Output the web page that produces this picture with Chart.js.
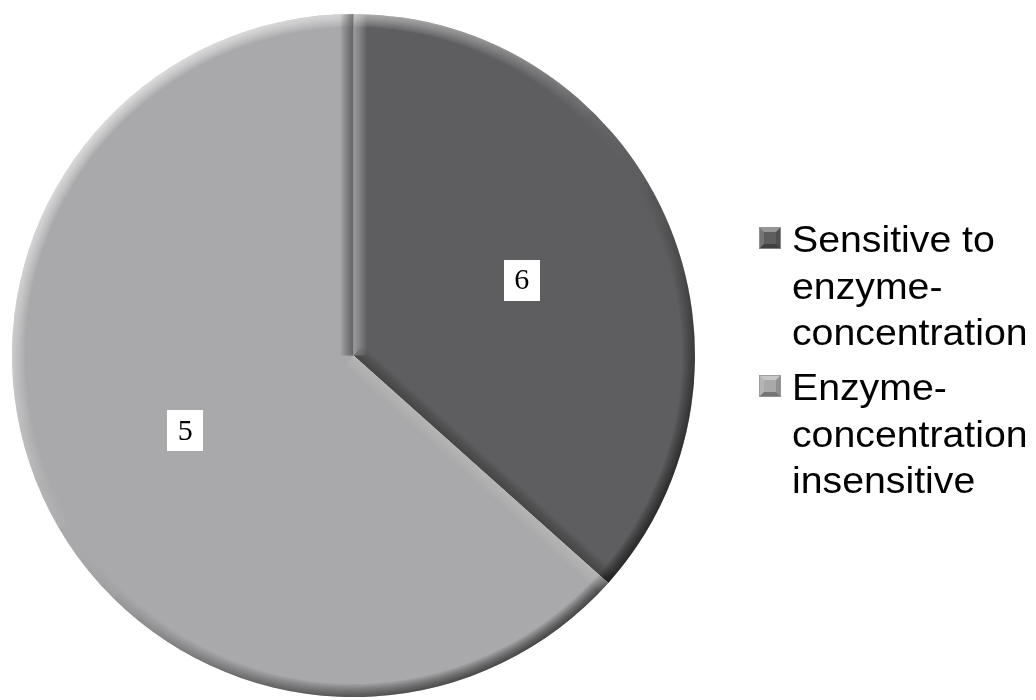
<!DOCTYPE html>
<html>
<head>
<meta charset="utf-8">
<script src="https://cdn.jsdelivr.net/npm/chart.js@4/dist/chart.umd.min.js"></script>
<style>
  html, body { margin: 0; padding: 0; background: #ffffff; }
  #wrap { width: 1036px; height: 700px; position: relative; }
  canvas { display: block; }
</style>
</head>
<body>
<div id="wrap"><canvas id="chart" width="1036" height="700"></canvas></div>
<script>
// Categories (legend wraps each name over several lines)
const categories = [
  'Sensitive to enzyme-concentration',
  'Enzyme-concentration insensitive'
];
const legendLines = [
  ['Sensitive to', 'enzyme-', 'concentration'],
  ['Enzyme-', 'concentration', 'insensitive']
];
// Share of the pie taken by each category (percent)
const shares = [36.6, 63.4];
// Counts printed inside each slice
const sliceLabels = ['6', '5'];
const sliceColors = ['#5e5d5f', '#a9a8aa'];

// Light comes from the upper left: edges facing it are lit, others shaded.
const LIGHT = { x: -0.6, y: -0.8 };
const BEVEL = 13;

function slicePath(ctx, x, y, r, a0, a1) {
  ctx.beginPath();
  ctx.moveTo(x, y);
  ctx.arc(x, y, r, a0, a1);
  ctx.closePath();
}

// Stroke an edge many times with shrinking width so it fades inward.
function softStroke(ctx, buildPath, style, alpha) {
  const steps = 10;
  ctx.strokeStyle = style;
  for (let k = 0; k < steps; k++) {
    ctx.globalAlpha = alpha / steps * 1.6;
    ctx.lineWidth = 2 * BEVEL * (1 - k / steps);
    buildPath();
    ctx.stroke();
  }
  ctx.globalAlpha = 1;
}

const bevelPlugin = {
  id: 'bevel',
  afterDatasetsDraw(chart) {
    const ctx = chart.ctx;
    const meta = chart.getDatasetMeta(0);
    meta.data.forEach((arc) => {
      const p = arc.getProps(['x', 'y', 'startAngle', 'endAngle', 'outerRadius'], true);
      const { x, y, startAngle, endAngle, outerRadius: r } = p;
      ctx.save();
      slicePath(ctx, x, y, r, startAngle, endAngle);
      ctx.clip();
      ctx.lineJoin = 'round';

      // outer rim: lit at the top-left, shaded at the bottom-right
      const g = ctx.createLinearGradient(x + LIGHT.x * r, y + LIGHT.y * r, x - LIGHT.x * r, y - LIGHT.y * r);
      g.addColorStop(0, 'rgba(255,255,255,0.6)');
      g.addColorStop(0.45, 'rgba(255,255,255,0.04)');
      g.addColorStop(0.55, 'rgba(0,0,0,0.04)');
      g.addColorStop(1, 'rgba(0,0,0,0.6)');
      softStroke(ctx, () => { ctx.beginPath(); ctx.arc(x, y, r, startAngle, endAngle); }, g, 0.85);

      // straight sides
      const sides = [
        { a: startAngle, n: { x: Math.sin(startAngle), y: -Math.cos(startAngle) } },
        { a: endAngle, n: { x: -Math.sin(endAngle), y: Math.cos(endAngle) } }
      ];
      sides.forEach((s) => {
        const d = s.n.x * LIGHT.x + s.n.y * LIGHT.y;
        const col = d >= 0 ? '#ffffff' : '#000000';
        const a = Math.min(0.4, Math.abs(d) * 0.4 + 0.06);
        softStroke(ctx, () => {
          ctx.beginPath();
          ctx.moveTo(x, y);
          ctx.lineTo(x + Math.cos(s.a) * r, y + Math.sin(s.a) * r);
        }, col, a);
      });
      ctx.restore();
    });
  }
};

const sliceLabelPlugin = {
  id: 'sliceLabels',
  afterDatasetsDraw(chart) {
    const ctx = chart.ctx;
    const meta = chart.getDatasetMeta(0);
    meta.data.forEach((arc, i) => {
      const { x, y, startAngle, endAngle, outerRadius } =
        arc.getProps(['x', 'y', 'startAngle', 'endAngle', 'outerRadius'], true);
      const mid = (startAngle + endAngle) / 2;
      const cx = x + Math.cos(mid) * outerRadius * 0.54;
      const cy = y + Math.sin(mid) * outerRadius * 0.54;
      const w = 36, h = 41;
      ctx.save();
      ctx.fillStyle = '#ffffff';
      ctx.fillRect(Math.round(cx - w / 2), Math.round(cy - h / 2), w, h);
      ctx.fillStyle = '#000000';
      ctx.font = '30px "Liberation Serif", "Times New Roman", serif';
      ctx.textAlign = 'center';
      ctx.textBaseline = 'middle';
      ctx.fillText(sliceLabels[i], cx, cy + 1);
      ctx.restore();
    });
  }
};

function drawMarker(ctx, x, y, s, color) {
  ctx.fillStyle = color;
  ctx.fillRect(x, y, s, s);
  const b = 5;
  const faces = [
    { pts: [[x, y], [x + s, y], [x + s - b, y + b], [x + b, y + b]], c: 'rgba(255,255,255,0.35)' },
    { pts: [[x, y], [x + b, y + b], [x + b, y + s - b], [x, y + s]], c: 'rgba(255,255,255,0.15)' },
    { pts: [[x, y + s], [x + b, y + s - b], [x + s - b, y + s - b], [x + s, y + s]], c: 'rgba(0,0,0,0.3)' },
    { pts: [[x + s, y], [x + s, y + s], [x + s - b, y + s - b], [x + s - b, y + b]], c: 'rgba(0,0,0,0.15)' }
  ];
  faces.forEach((f) => {
    ctx.beginPath();
    ctx.moveTo(f.pts[0][0], f.pts[0][1]);
    for (let i = 1; i < f.pts.length; i++) ctx.lineTo(f.pts[i][0], f.pts[i][1]);
    ctx.closePath();
    ctx.fillStyle = f.c;
    ctx.fill();
  });
  ctx.strokeStyle = 'rgba(150,150,150,0.8)';
  ctx.lineWidth = 1;
  ctx.strokeRect(x + 0.5, y + 0.5, s - 1, s - 1);
}

const sideLegendPlugin = {
  id: 'sideLegend',
  afterDraw(chart) {
    const ctx = chart.ctx;
    const left = 759, textX = 792, lineH = 46.5, gap = 8.5;
    let base = 252;
    ctx.save();
    ctx.font = '36px "Liberation Sans", Arial, sans-serif';
    ctx.textBaseline = 'alphabetic';
    ctx.textAlign = 'left';
    legendLines.forEach((lines, i) => {
      drawMarker(ctx, left, base - 25, 22, sliceColors[i]);
      ctx.fillStyle = '#000000';
      lines.forEach((t, j) => {
        ctx.save();
        ctx.translate(textX, base + j * lineH);
        ctx.scale(1.09, 1);
        ctx.fillText(t, 0, 0);
        ctx.restore();
      });
      base += lines.length * lineH + gap;
    });
    ctx.restore();
  }
};

new Chart(document.getElementById('chart'), {
  type: 'pie',
  data: {
    labels: categories,
    datasets: [{
      data: shares,
      backgroundColor: sliceColors,
      borderWidth: 0
    }]
  },
  options: {
    responsive: false,
    animation: false,
    layout: { padding: { left: 12, top: 14, right: 341, bottom: 3 } },
    plugins: {
      legend: { display: false },
      tooltip: { enabled: false }
    }
  },
  plugins: [bevelPlugin, sliceLabelPlugin, sideLegendPlugin]
});
</script>
</body>
</html>
